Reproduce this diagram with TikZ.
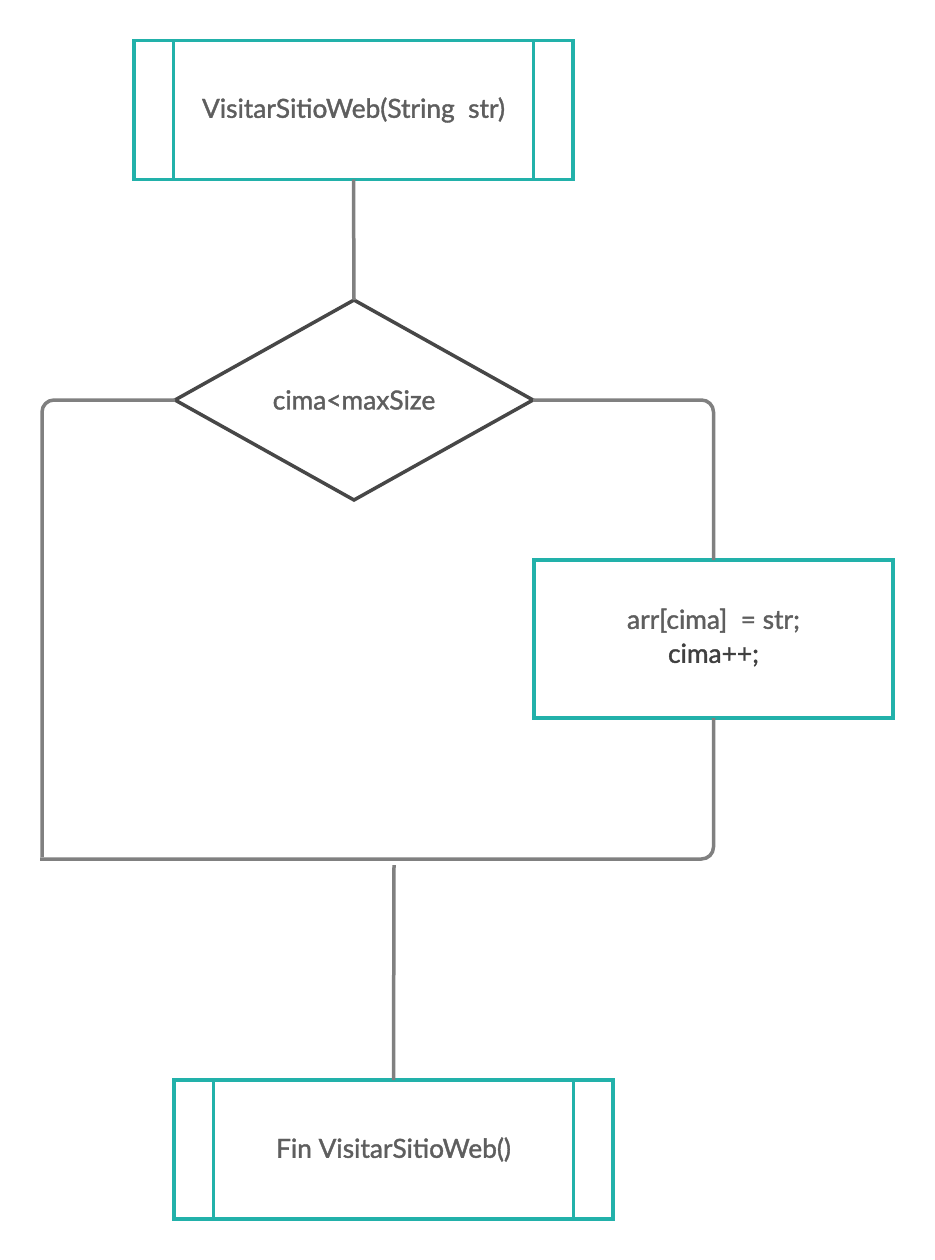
\documentclass[tikz,border=0pt]{standalone}
\usepackage{fontspec}
\setmainfont{Lato}
\newfontfamily\medfont{Lato}[FakeBold=1.4]
\usetikzlibrary{shapes.geometric,calc}
\definecolor{teal}{HTML}{22B1AA}
\definecolor{wire}{HTML}{808080}
\definecolor{edge}{HTML}{474747}
\definecolor{label}{HTML}{5E5E5E}
\definecolor{labeldark}{HTML}{404040}
\tikzset{
  x=1pt, y=-1pt,
  labelfont/.style={font=\medfont\fontsize{26.3}{34}\selectfont, text=label},
  procbox/.style={draw=teal, line width=3.6pt, rectangle, outer sep=0pt,
    minimum width=#1, labelfont, align=center},
  subbox/.style={procbox=439pt, minimum height=139pt},
  decision/.style={draw=edge, line width=3.5pt, diamond, outer sep=0pt,
    minimum width=358pt, minimum height=200pt, aspect=1.79, inner sep=0pt,
    labelfont},
  conn/.style={draw=wire, line width=3.5pt, rounded corners=12pt},
  bar/.style={draw=teal, line width=3.6pt}
}
\begin{document}
\begin{tikzpicture}
\useasboundingbox (0,0) rectangle (934,1260);

% start subroutine
\node[subbox] (start) at (353.5,110) {\raisebox{-6pt}{VisitarSitioWeb(String\ \ str)}};
\draw[bar] ($(start.north west)+(39.5,0)$) -- ($(start.south west)+(39.5,0)$);
\draw[bar] ($(start.north east)+(-39.5,0)$) -- ($(start.south east)+(-39.5,0)$);

% condition
\node[decision] (cond) at (354,400) {\raisebox{-2pt}{cima<maxSize}};

% body of the true branch
\node[procbox=359pt, minimum height=158pt] (body) at (713.5,639)
  {\raisebox{-11pt}{\begin{tabular}{c}arr[cima]\ \ = str;\\ \textcolor{labeldark}{cima++;}\end{tabular}}};

% end subroutine
\node[subbox] (fin) at (393.5,1149.5) {\raisebox{-5pt}{Fin VisitarSitioWeb()}};
\draw[bar] ($(fin.north west)+(39.5,0)$) -- ($(fin.south west)+(39.5,0)$);
\draw[bar] ($(fin.north east)+(-39.5,0)$) -- ($(fin.south east)+(-39.5,0)$);

% free ends of the loop wires
\coordinate (leftend) at (42,857);
\coordinate (bottomend) at (40,859);
\coordinate (joinpt) at (394,865);

% connectors
\draw[conn] (start.south) -- (cond.north);
\draw[conn] (cond.west) -| (leftend);
\draw[conn] (cond.east) -| (body.north);
\draw[conn] (body.south) |- (bottomend);
\draw[conn] (joinpt) -- (fin.north);
\end{tikzpicture}
\end{document}
